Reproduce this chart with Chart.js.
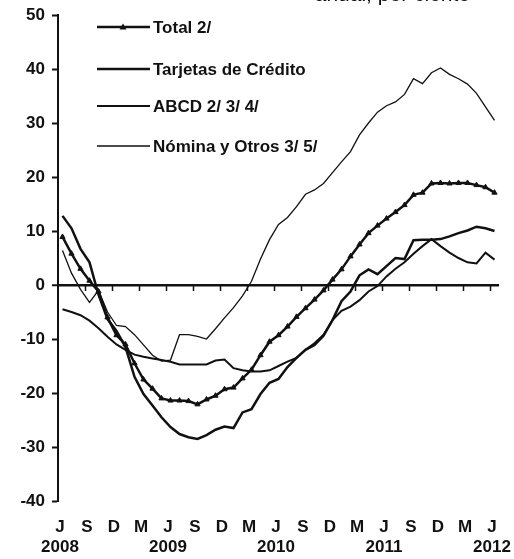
<!DOCTYPE html>
<html>
<head>
<meta charset="utf-8">
<script src="https://cdn.jsdelivr.net/npm/chart.js@4.4.1/dist/chart.umd.min.js"></script>
<style>
  html, body { margin: 0; padding: 0; background: #fff; }
  #wrap { width: 514px; height: 559px; }
</style>
</head>
<body>
<div id="wrap"><canvas id="chart" width="514" height="559"></canvas></div>
<script>
// monthly data, Jun 2008 .. Jun 2012
const months = [
  'Jun-08','Jul-08','Ago-08','Sep-08','Oct-08','Nov-08','Dic-08',
  'Ene-09','Feb-09','Mar-09','Abr-09','May-09','Jun-09','Jul-09','Ago-09','Sep-09','Oct-09','Nov-09','Dic-09',
  'Ene-10','Feb-10','Mar-10','Abr-10','May-10','Jun-10','Jul-10','Ago-10','Sep-10','Oct-10','Nov-10','Dic-10',
  'Ene-11','Feb-11','Mar-11','Abr-11','May-11','Jun-11','Jul-11','Ago-11','Sep-11','Oct-11','Nov-11','Dic-11',
  'Ene-12','Feb-12','Mar-12','Abr-12','May-12','Jun-12'
];

const total = [8.9, 5.8, 3.0, 0.8, -1.2, -6.0, -9.3, -11.0, -14.5, -17.5, -19.2, -21.0, -21.4, -21.4, -21.5, -22.1,
  -21.2, -20.5, -19.3, -19.0, -17.3, -15.7, -13.0, -10.5, -9.3, -7.7, -5.9, -4.3, -2.7, -1.0, 1.0, 2.9,
  5.3, 7.5, 9.6, 11.0, 12.3, 13.5, 14.8, 16.7, 17.1, 18.8, 18.9, 18.8, 18.9, 18.9, 18.5, 18.1, 17.1];

const tarjetas = [12.8, 10.5, 6.7, 4.2, -1.8, -6.3, -8.5, -11.5, -17.0, -20.2, -22.3, -24.5, -26.3, -27.6, -28.2, -28.5,
  -27.8, -26.8, -26.2, -26.5, -23.6, -23.0, -20.2, -18.1, -17.4, -15.2, -13.5, -12.0, -11.1, -9.4, -6.5, -3.0,
  -1.2, 1.8, 2.9, 2.0, 3.5, 5.0, 4.8, 8.3, 8.4, 8.4, 8.5, 9.0, 9.6, 10.1, 10.8, 10.5, 10.0];

const abcd = [-4.5, -5.0, -5.6, -6.6, -8.0, -9.6, -11.0, -12.0, -12.9, -13.3, -13.6, -13.9, -14.2, -14.7, -14.7, -14.7,
  -14.7, -14.0, -13.8, -15.4, -15.8, -16.0, -16.0, -15.8, -15.0, -14.2, -13.5, -12.0, -10.8, -9.2, -6.5, -4.8,
  -4.0, -2.8, -1.2, -0.2, 1.6, 3.0, 4.2, 5.8, 7.2, 8.5, 7.2, 6.0, 5.0, 4.2, 4.0, 6.0, 4.7];

const nomina = [6.4, 2.2, -0.8, -3.2, -1.0, -5.0, -7.5, -7.7, -9.2, -11.1, -13.0, -14.1, -13.9, -9.2, -9.2, -9.5,
  -10.0, -8.1, -6.1, -4.2, -2.0, 0.7, 4.8, 8.4, 11.2, 12.5, 14.5, 16.8, 17.6, 18.8, 20.8, 22.8,
  24.7, 27.8, 30.0, 32.0, 33.2, 33.9, 35.3, 38.2, 37.3, 39.3, 40.2, 39.0, 38.2, 37.2, 35.5, 33.0, 30.5];

// quarterly tick labels on the x axis
const tickMonths = ['J','S','D','M','J','S','D','M','J','S','D','M','J','S','D','M','J'];
const tickYears  = ['2008','','','','2009','','','','2010','','','','2011','','','','2012'];

const seriesNames = ['Total 2/', 'Tarjetas de Crédito', 'ABCD 2/ 3/ 4/', 'Nómina y Otros 3/ 5/'];

const FONT = '"Liberation Sans", Arial, sans-serif';
const INK = '#111';

function toPoints(values) {
  return values.map((v, i) => ({ x: i, y: v }));
}

// small tick marks hanging under the zero line, one per quarter
const zeroTicks = {
  id: 'zeroTicks',
  beforeDatasetsDraw(chart) {
    const { ctx, scales } = chart;
    const y0 = scales.y.getPixelForValue(0);
    ctx.save();
    ctx.strokeStyle = INK;
    ctx.lineWidth = 1.5;
    scales.x.ticks.forEach((t, k) => {
      if (k === 0) return;
      const px = Math.round(scales.x.getPixelForValue(t.value)) + 0.5;
      ctx.beginPath();
      ctx.moveTo(px, y0);
      ctx.lineTo(px, y0 + 6);
      ctx.stroke();
    });
    ctx.restore();
  }
};

// legend drawn inside the plot, upper left
const insideLegend = {
  id: 'insideLegend',
  afterDraw(chart) {
    const { ctx } = chart;
    const rows = [27, 69, 106, 146];
    const x1 = 97, x2 = 150, tx = 153;
    ctx.save();
    ctx.font = 'bold 17px ' + FONT;
    ctx.textBaseline = 'middle';
    ctx.fillStyle = INK;
    chart.data.datasets.forEach((ds, i) => {
      const y = rows[i];
      ctx.strokeStyle = INK;
      ctx.lineWidth = ds.borderWidth;
      ctx.beginPath();
      ctx.moveTo(x1, y);
      ctx.lineTo(x2, y);
      ctx.stroke();
      if (ds.pointRadius > 0) {
        ctx.beginPath();
        ctx.moveTo(123, y - 3.5);
        ctx.lineTo(126.5, y + 2.5);
        ctx.lineTo(119.5, y + 2.5);
        ctx.closePath();
        ctx.fill();
      }
      ctx.fillText(ds.label, tx, y + 1);
    });
    // only the bottom edge of the heading above the chart shows
    ctx.textAlign = 'right';
    ctx.textBaseline = 'alphabetic';
    ctx.font = '21px ' + FONT;
    ctx.fillText('anual, por ciento', 470, 1);
    ctx.restore();
  }
};

const ctx = document.getElementById('chart').getContext('2d');
new Chart(ctx, {
  type: 'line',
  data: {
    datasets: [
      { label: seriesNames[0], data: toPoints(total), borderColor: INK, backgroundColor: INK,
        borderWidth: 2.5, pointStyle: 'triangle', pointRadius: 3, pointBorderWidth: 1,
        pointBackgroundColor: INK, pointBorderColor: INK },
      { label: seriesNames[1], data: toPoints(tarjetas), borderColor: INK, borderWidth: 2.5, pointRadius: 0 },
      { label: seriesNames[2], data: toPoints(abcd), borderColor: INK, borderWidth: 2, pointRadius: 0 },
      { label: seriesNames[3], data: toPoints(nomina), borderColor: INK, borderWidth: 1.3, pointRadius: 0 }
    ]
  },
  options: {
    responsive: false,
    animation: false,
    layout: { padding: { top: 15, right: 15, bottom: 0, left: 0 } },
    plugins: {
      legend: { display: false },
      tooltip: { enabled: false },
      title: { display: false }
    },
    elements: { line: { tension: 0 } },
    scales: {
      x: {
        type: 'linear',
        min: -0.5,
        max: 48.5,
        afterBuildTicks(scale) {
          scale.ticks = tickMonths.map((m, k) => ({ value: -0.5 + 3 * k }));
        },
        afterFit(scale) {
          scale.height = 58;
          scale.paddingLeft = 0;
          scale.paddingRight = 0;
        },
        grid: { display: false, drawTicks: false },
        border: { display: false },
        ticks: {
          autoSkip: false,
          maxRotation: 0,
          padding: 16,
          labelOffset: 2,
          color: INK,
          font: { family: FONT, size: 17, weight: 'bold', lineHeight: 1.2 },
          callback(value, index) {
            return tickYears[index] ? [tickMonths[index], tickYears[index]] : tickMonths[index];
          }
        }
      },
      y: {
        min: -40,
        max: 50,
        afterFit(scale) {
          scale.width = 58;
          scale.paddingTop = 0;
          scale.paddingBottom = 0;
        },
        ticks: {
          stepSize: 10,
          padding: 7,
          color: INK,
          font: { family: FONT, size: 17, weight: 'bold' }
        },
        grid: {
          drawOnChartArea: true,
          color: c => (c.tick && c.tick.value === 0 ? INK : 'rgba(0,0,0,0)'),
          lineWidth: c => (c.tick && c.tick.value === 0 ? 2.5 : 1),
          tickColor: INK,
          tickWidth: 2,
          tickLength: 6
        },
        border: { display: true, color: INK, width: 2 }
      }
    }
  },
  plugins: [zeroTicks, insideLegend]
});
</script>
</body>
</html>
